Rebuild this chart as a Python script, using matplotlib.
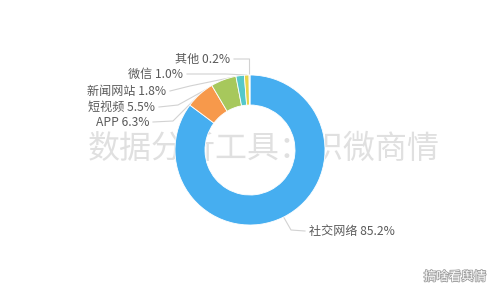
import matplotlib
matplotlib.use('Agg')
import matplotlib.pyplot as plt
import matplotlib.patheffects as pe
import numpy as np

plt.rcParams['font.family'] = ['Noto Sans CJK SC', 'DejaVu Sans']

CATEGORIES = ['社交网络', 'APP', '短视频', '新闻网站', '微信', '其他']
SHARES = [85.2, 6.3, 5.5, 1.8, 1.0, 0.2]
COLORS = ['#46aef0', '#f7994b', '#a7c85c', '#55c8ca', '#e6d54a', '#5a8fd0']

# label layout, pixel coords (y down): text anchor point, elbow of leader line
LABEL_POS = [(309, 231), (149, 122), (155, 107), (166, 91), (183, 74), (230, 59)]
ELBOWS = [(291, 230), (173, 121), (178, 105), (190, 86), (226, 74), (249.5, 59)]
LABEL_HA = ['left', 'right', 'right', 'right', 'right', 'right']

CENTER = (250, 150)
RADIUS = 75
RING = 30

W, H = 500, 300


def up(y):
    return H - y


fig = plt.figure(figsize=(5, 3), dpi=100)
ax = fig.add_axes([0, 0, 1, 1])
ax.set_xlim(0, W)
ax.set_ylim(0, H)
ax.axis('off')

ax.text(264, up(149), '数据分析工具：识微商情', fontsize=23, color='#e0e0e0',
        ha='center', va='center', zorder=0)

wedges, _ = ax.pie(SHARES, colors=COLORS, startangle=90, counterclock=False,
                   center=(CENTER[0], up(CENTER[1])), radius=RADIUS,
                   wedgeprops=dict(width=RING, edgecolor='white', linewidth=0.6))
for w in wedges:
    w.set_zorder(2)

ax.set_xlim(0, W)
ax.set_ylim(0, H)
ax.set_aspect('auto')

for w, name, val, pos, elb, ha in zip(wedges, CATEGORIES, SHARES, LABEL_POS, ELBOWS, LABEL_HA):
    mid = np.deg2rad((w.theta1 + w.theta2) / 2)
    ax0 = CENTER[0] + RADIUS * np.cos(mid)
    ay0 = up(CENTER[1]) + RADIUS * np.sin(mid)
    end_x = pos[0] - 4 if ha == 'left' else pos[0] + 4
    ax.plot([ax0, elb[0], end_x], [ay0, up(elb[1]), up(pos[1])],
            color='#d2d2d2', lw=0.8, zorder=1)
    ax.text(pos[0], up(pos[1]), f'{name} {val}%', fontsize=8.7, color='#5a5a5a',
            ha=ha, va='center', zorder=3)

ax.text(455, up(277), '搞啥看舆情', fontsize=9, color='white', ha='center', va='center',
        path_effects=[pe.withStroke(linewidth=1.2, foreground='#a0a0a0')], zorder=4)

fig.savefig('out.png', dpi=100)
